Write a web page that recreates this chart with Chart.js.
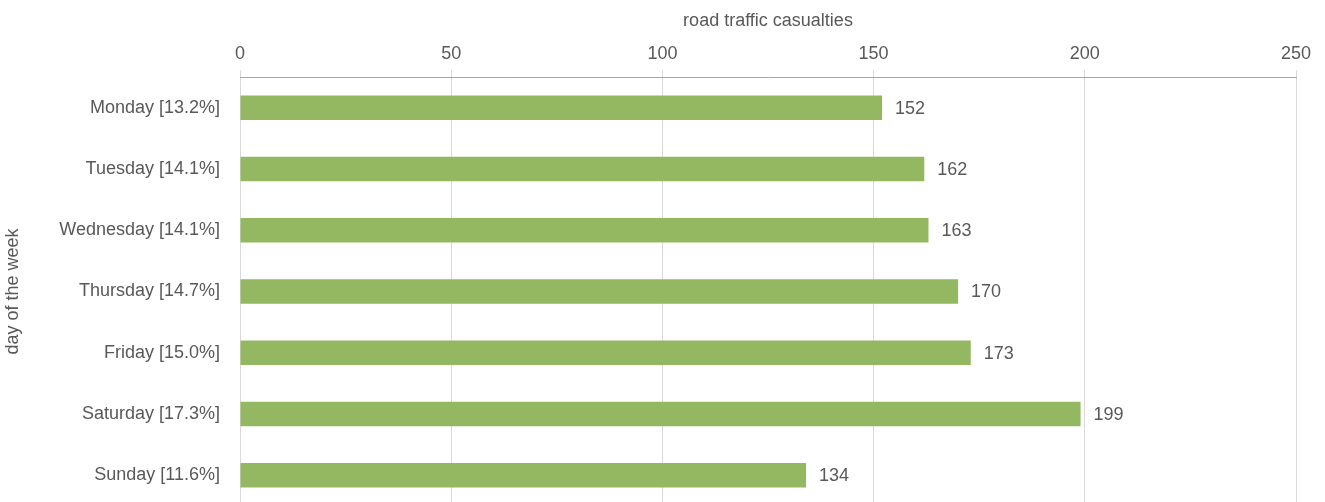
<!DOCTYPE html>
<html>
<head>
<meta charset="utf-8">
<script src="https://cdn.jsdelivr.net/npm/chart.js@4/dist/chart.umd.min.js"></script>
<style>
  html, body { margin: 0; padding: 0; background: #fff; overflow: hidden; }
  canvas { display: block; }
</style>
</head>
<body>
<canvas id="c" width="1325" height="506" style="width:1325px;height:506px;"></canvas>
<script>
const categories = ["Monday [13.2%]", "Tuesday [14.1%]", "Wednesday [14.1%]", "Thursday [14.7%]", "Friday [15.0%]", "Saturday [17.3%]", "Sunday [11.6%]"];
const casualties = [152, 162, 163, 170, 173, 199, 134];
const xTitle = "road traffic casualties";
const yTitle = "day of the week";

const FONT = "'Liberation Sans', Arial, sans-serif";
const TEXT = "#595959";

const valueLabels = {
  id: 'valueLabels',
  afterDatasetsDraw(chart) {
    const ctx = chart.ctx;
    const meta = chart.getDatasetMeta(0);
    ctx.save();
    ctx.font = "18px " + FONT;
    ctx.fillStyle = TEXT;
    ctx.textAlign = 'left';
    ctx.textBaseline = 'middle';
    meta.data.forEach((bar, i) => {
      ctx.fillText(String(chart.data.datasets[0].data[i]), bar.x + 13, bar.y + 1);
    });
    ctx.restore();
  }
};

new Chart(document.getElementById('c'), {
  type: 'bar',
  data: {
    labels: categories,
    datasets: [{
      data: casualties,
      backgroundColor: '#94B861',
      borderWidth: 0,
      categoryPercentage: 1,
      barPercentage: 0.4
    }]
  },
  options: {
    indexAxis: 'y',
    responsive: false,
    maintainAspectRatio: false,
    animation: false,
    devicePixelRatio: 1,
    layout: { padding: { left: 0, right: 29, top: 0, bottom: 0 } },
    plugins: { legend: { display: false }, tooltip: { enabled: false } },
    scales: {
      x: {
        position: 'top',
        min: 0, max: 250,
        ticks: { stepSize: 50, color: TEXT, font: { family: FONT, size: 18 }, padding: 5 },
        grid: { color: '#d9d9d9', lineWidth: 1, drawTicks: true, tickLength: 7, tickColor: '#d9d9d9' },
        border: { display: true, color: '#a6a6a6', width: 1 },
        title: { display: true, text: xTitle, color: TEXT, font: { family: FONT, size: 18 }, padding: { top: 10, bottom: 0 } },
        afterFit(scale) { scale.height = 77; scale.paddingLeft = 0; scale.paddingRight = 0; }
      },
      y: {
        ticks: { color: TEXT, font: { family: FONT, size: 18 }, padding: 20 },
        grid: { display: false, drawTicks: false },
        border: { display: false },
        title: { display: true, text: yTitle, color: TEXT, font: { family: FONT, size: 18 }, padding: { top: 2, bottom: 0 } },
        afterFit(scale) { scale.width = 240; scale.paddingTop = 0; scale.paddingBottom = 0; }
      }
    }
  },
  plugins: [valueLabels]
});
</script>
</body>
</html>
